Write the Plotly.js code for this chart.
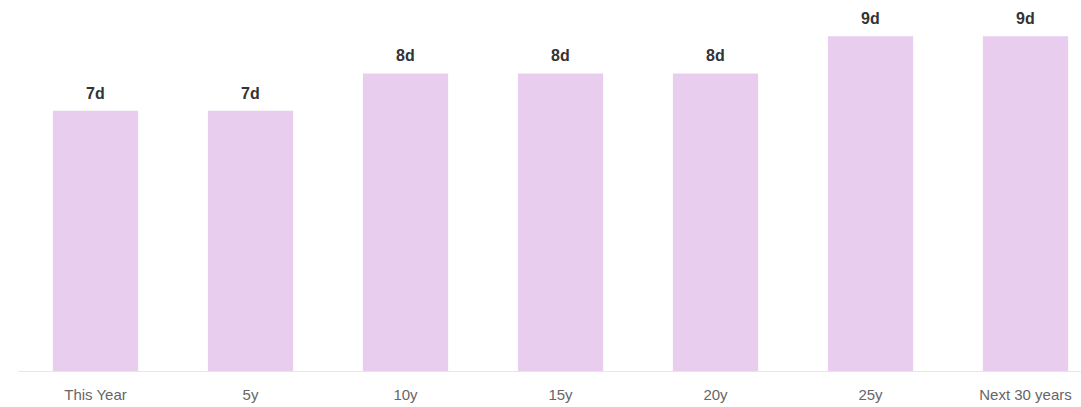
<!DOCTYPE html>
<html>
<head>
<meta charset="utf-8">
<script src="https://cdn.plot.ly/plotly-3.0.1.min.js"></script>
<style>html,body{margin:0;padding:0;background:#fff;}#chart{width:1081px;height:407px;}</style>
</head>
<body>
<div id="chart"></div>
<script>
const categories = ["This Year", "5y", "10y", "15y", "20y", "25y", "Next 30 years"];
const days = [7, 7, 8, 8, 8, 9, 9];
const valueLabels = ["7d", "7d", "8d", "8d", "8d", "9d", "9d"];

const trace = {
  type: "bar",
  x: categories,
  y: days,
  marker: {color: "#e8cdee"},
  hoverinfo: "skip",
  cliponaxis: false
};

const annotations = categories.map((c, i) => ({
  x: c, y: days[i], xref: "x", yref: "y",
  text: "<b>" + valueLabels[i] + "</b>",
  showarrow: false, yanchor: "bottom", yshift: 7,
  font: {family: "Liberation Sans, Arial, sans-serif", size: 16, color: "#333333"}
}));

const layout = {
  width: 1081, height: 407,
  margin: {l: 18, r: 0, t: 0, b: 36, pad: 0},
  paper_bgcolor: "#ffffff", plot_bgcolor: "#ffffff",
  bargap: 0.45,
  showlegend: false,
  xaxis: {
    type: "category",
    range: [-0.5, 6.358],
    showline: true, linecolor: "#e6e6e6", linewidth: 1,
    showgrid: false, zeroline: false, ticks: "",
    ticklabelstandoff: 10,
    tickfont: {family: "Liberation Sans, Arial, sans-serif", size: 15, color: "#666666"},
    fixedrange: true
  },
  yaxis: {
    range: [0, 9.976],
    visible: false, showgrid: false, zeroline: false, fixedrange: true
  },
  annotations: annotations
};

Plotly.newPlot("chart", [trace], layout, {displayModeBar: false, staticPlot: true});
</script>
</body>
</html>
